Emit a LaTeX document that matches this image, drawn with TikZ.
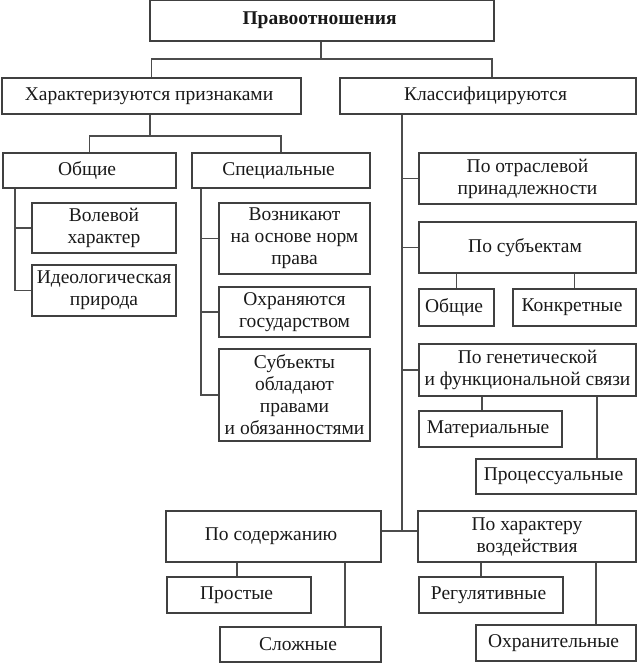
\documentclass[tikz,border=0pt]{standalone}
\usepackage{fontspec}
\setmainfont{Liberation Serif}
\usetikzlibrary{shapes,positioning}

\begin{document}
\begin{tikzpicture}[x=1pt,y=-1pt]
  \useasboundingbox (0,0) rectangle (637,663);

  \coordinate (Rel) at (322,20.5);
  \coordinate (Feat) at (151.5,96);
  \coordinate (Class) at (488,96);
  \coordinate (Gen) at (89.5,170.5);
  \coordinate (Spec) at (281,170.5);
  \coordinate (Will) at (104,228);
  \coordinate (Ideo) at (104,290.5);
  \coordinate (Arise) at (294.5,238.5);
  \coordinate (Prot) at (294.5,312);
  \coordinate (Subj) at (294.5,395);
  \coordinate (Branch) at (527.5,178.5);
  \coordinate (BySubj) at (527.5,247.5);
  \coordinate (SGen) at (456.5,307.5);
  \coordinate (SConc) at (574.5,307.5);
  \coordinate (GenFun) at (527.5,370);
  \coordinate (Mat) at (490.5,429);
  \coordinate (Proc) at (556,476.5);
  \coordinate (Cont) at (273.5,536.5);
  \coordinate (Impact) at (527,536.5);
  \coordinate (Simple) at (239,595);
  \coordinate (Complex) at (300.5,644.5);
  \coordinate (Reg) at (491,595);
  \coordinate (Guard) at (556,643);

  % forks and spines
  \coordinate (TopFork) at (321,59);
  \coordinate (FeatFork) at (150,136);
  \coordinate (GenSpine) at (15,0);
  \coordinate (SpecSpine) at (201,0);
  \coordinate (ClassSpine) at (402,0);
  \coordinate (ClassFork) at (402,531);
  \coordinate (MatLink) at (482,0);
  \coordinate (ProcLink) at (597,0);
  \coordinate (SimpleLink) at (237,0);
  \coordinate (ComplexLink) at (345,0);
  \coordinate (RegLink) at (481,0);
  \coordinate (GuardLink) at (596,0);

  \tikzstyle{cbox}=[draw=black!75,line width=1.1pt,
                    shape=rectangle,inner sep=1pt,
                    align=center,text=black!90,
                    font=\fontsize{19.5}{22}\selectfont];
  \tikzstyle{link}=[draw=black!70,line width=1.1pt];

  \node[cbox,minimum width=344,minimum height=41] (RelBox) at (Rel) { \bf Правоотношения };
  \node[cbox,minimum width=299,minimum height=36] (FeatBox) at (Feat) { Характеризуются признаками };
  \node[cbox,minimum width=296,minimum height=36] (ClassBox) at (Class) { Классифицируются };
  \draw[link] (RelBox.south -| TopFork) -- (TopFork);
  \draw[link] (FeatBox.north) |- (TopFork) -| ([xshift=4]ClassBox.north);

  \node[cbox,minimum width=173,minimum height=35] (GenBox) at (Gen) { Общие };
  \node[cbox,minimum width=178,minimum height=35] (SpecBox) at (Spec) { Специальные };
  \draw[link] (FeatBox.south -| FeatFork) -- (FeatFork);
  \draw[link] (GenBox.north) |- (FeatFork) -| (SpecBox.north);

  \node[cbox,minimum width=144,minimum height=50] (WillBox) at (Will) { Волевой\\ характер };
  \node[cbox,minimum width=144,minimum height=51] (IdeoBox) at (Ideo) { Идеологическая\\ природа };
  \draw[link] (GenBox.south -| GenSpine) |- (IdeoBox.west);
  \draw[link] (GenSpine |- WillBox.west) -- (WillBox.west);

  \node[cbox,minimum width=151,minimum height=71] (AriseBox) at (Arise) { Возникают\\ на основе норм\\ права };
  \node[cbox,minimum width=151,minimum height=50] (ProtBox) at (Prot) { Охраняются\\ государством };
  \node[cbox,minimum width=151,minimum height=92] (SubjBox) at (Subj) { Субъекты\\ обладают\\ правами\\ и обязанностями };
  \draw[link] (SpecBox.south -| SpecSpine) |- (SubjBox.west);
  \draw[link] (SpecSpine |- AriseBox.west) -- (AriseBox.west);
  \draw[link] (SpecSpine |- ProtBox.west) -- (ProtBox.west);

  \node[cbox,minimum width=217,minimum height=51] (BranchBox) at (Branch) { По отраслевой\\ принадлежности };
  \node[cbox,minimum width=217,minimum height=51] (BySubjBox) at (BySubj) { По субъектам };
  \node[cbox,minimum width=75,minimum height=37] (SGenBox) at (SGen) { Общие };
  \node[cbox,minimum width=123,minimum height=37] (SConcBox) at (SConc) { Конкретные };
  \draw[link] (BySubjBox.south -| SGenBox.north) -- (SGenBox.north);
  \draw[link] (BySubjBox.south -| SConcBox.north) -- (SConcBox.north);

  \node[cbox,minimum width=217,minimum height=52] (GenFunBox) at (GenFun) { По генетической\\ и функциональной связи };
  \node[cbox,minimum width=143,minimum height=36] (MatBox) at (Mat) { Материальные };
  \node[cbox,minimum width=160,minimum height=35] (ProcBox) at (Proc) { Процессуальные };
  \draw[link] (GenFunBox.south -| MatLink) -- (MatBox.north -| MatLink);
  \draw[link] (GenFunBox.south -| ProcLink) -- (ProcBox.north -| ProcLink);

  \node[cbox,minimum width=215,minimum height=51] (ContBox) at (Cont) { По содержанию };
  \node[cbox,minimum width=218,minimum height=51] (ImpactBox) at (Impact) { По характеру\\ воздействия };
  \draw[link] (ClassBox.south -| ClassSpine) -- (ClassFork);
  \draw[link] (ContBox.east |- ClassFork) -- (ImpactBox.west |- ClassFork);
  \draw[link] (ClassSpine |- BranchBox.west) -- (BranchBox.west);
  \draw[link] (ClassSpine |- BySubjBox.west) -- (BySubjBox.west);
  \draw[link] (ClassSpine |- GenFunBox.west) -- (GenFunBox.west);

  \node[cbox,minimum width=144,minimum height=36] (SimpleBox) at (Simple) { Простые };
  \node[cbox,minimum width=161,minimum height=35] (ComplexBox) at (Complex) { Сложные };
  \draw[link] (ContBox.south -| SimpleLink) -- (SimpleBox.north -| SimpleLink);
  \draw[link] (ContBox.south -| ComplexLink) -- (ComplexBox.north -| ComplexLink);

  \node[cbox,minimum width=144,minimum height=36] (RegBox) at (Reg) { Регулятивные };
  \node[cbox,minimum width=160,minimum height=36] (GuardBox) at (Guard) { Охранительные };
  \draw[link] (ImpactBox.south -| RegLink) -- (RegBox.north -| RegLink);
  \draw[link] (ImpactBox.south -| GuardLink) -- (GuardBox.north -| GuardLink);
\end{tikzpicture}
\end{document}
